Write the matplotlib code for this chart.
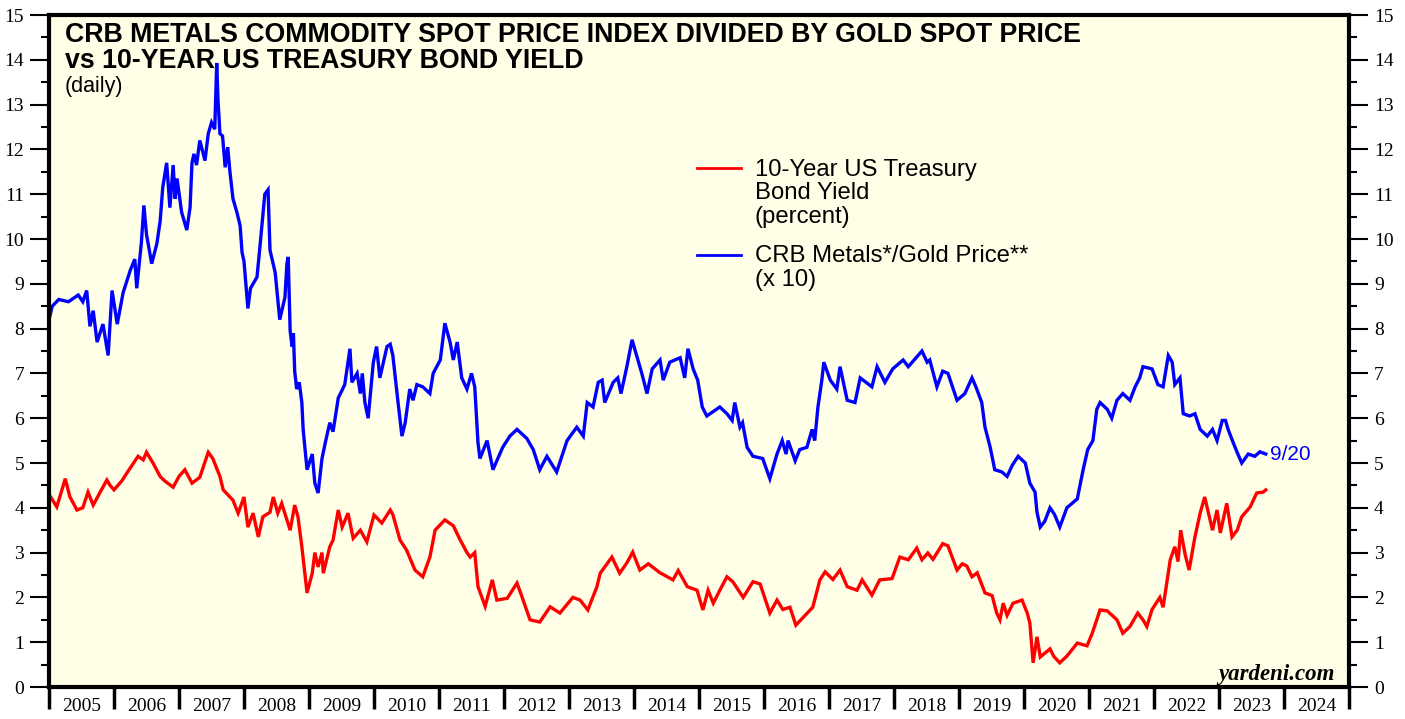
import matplotlib
matplotlib.use("Agg")
import matplotlib.pyplot as plt
from matplotlib.ticker import MultipleLocator, FixedLocator

# CRB metals / gold price (x 10), (decimal year, value)
crb_gold = [
    (2005.00, 8.2), (2005.05, 8.5), (2005.15, 8.65), (2005.30, 8.6), (2005.45, 8.75), (2005.52, 8.6),
    (2005.58, 8.85), (2005.63, 8.05), (2005.68, 8.4), (2005.74, 7.7), (2005.83, 8.1), (2005.91, 7.4),
    (2005.97, 8.85), (2006.05, 8.1), (2006.14, 8.8), (2006.25, 9.3), (2006.32, 9.55), (2006.35, 8.9),
    (2006.42, 9.9), (2006.46, 10.75), (2006.50, 10.1), (2006.58, 9.45), (2006.66, 9.9), (2006.71, 10.4),
    (2006.75, 11.15), (2006.81, 11.7), (2006.86, 10.7), (2006.91, 11.65), (2006.94, 10.9), (2006.97, 11.35),
    (2007.04, 10.6), (2007.12, 10.2), (2007.17, 10.7), (2007.20, 11.7), (2007.23, 11.9), (2007.27, 11.65),
    (2007.32, 12.2), (2007.40, 11.75), (2007.45, 12.35), (2007.50, 12.6), (2007.55, 12.45), (2007.58, 13.93),
    (2007.60, 13.1), (2007.63, 12.35), (2007.67, 12.3), (2007.71, 11.6), (2007.75, 12.05), (2007.78, 11.55),
    (2007.83, 10.9), (2007.89, 10.6), (2007.94, 10.3), (2007.97, 9.7), (2008.00, 9.5), (2008.06, 8.45),
    (2008.10, 8.9), (2008.20, 9.15), (2008.25, 9.9), (2008.32, 11.0), (2008.37, 11.1), (2008.40, 9.75),
    (2008.48, 9.25), (2008.55, 8.2), (2008.63, 8.7), (2008.66, 9.45), (2008.68, 9.6), (2008.71, 7.95),
    (2008.74, 7.6), (2008.76, 7.9), (2008.78, 7.05), (2008.81, 6.65), (2008.85, 6.8), (2008.89, 6.35),
    (2008.91, 5.75), (2008.97, 4.85), (2009.05, 5.2), (2009.09, 4.55), (2009.14, 4.33), (2009.20, 5.1),
    (2009.25, 5.45), (2009.32, 5.9), (2009.37, 5.7), (2009.45, 6.45), (2009.55, 6.75), (2009.63, 7.55),
    (2009.66, 6.8), (2009.74, 7.0), (2009.79, 6.55), (2009.82, 7.0), (2009.86, 6.35), (2009.91, 6.0),
    (2009.99, 7.25), (2010.04, 7.6), (2010.09, 6.9), (2010.20, 7.6), (2010.25, 7.65), (2010.29, 7.4),
    (2010.37, 6.35), (2010.43, 5.6), (2010.48, 5.9), (2010.55, 6.65), (2010.60, 6.4), (2010.66, 6.75),
    (2010.75, 6.7), (2010.86, 6.55), (2010.91, 7.0), (2011.02, 7.3), (2011.09, 8.12), (2011.17, 7.7),
    (2011.22, 7.3), (2011.28, 7.7), (2011.35, 6.9), (2011.43, 6.65), (2011.50, 7.0), (2011.55, 6.7),
    (2011.60, 5.45), (2011.63, 5.1), (2011.74, 5.5), (2011.83, 4.85), (2011.98, 5.35), (2012.09, 5.6),
    (2012.20, 5.75), (2012.35, 5.55), (2012.45, 5.3), (2012.55, 4.85), (2012.66, 5.15), (2012.81, 4.8),
    (2012.97, 5.5), (2013.12, 5.8), (2013.22, 5.6), (2013.28, 6.35), (2013.37, 6.25), (2013.45, 6.8),
    (2013.51, 6.85), (2013.55, 6.35), (2013.68, 6.8), (2013.75, 6.9), (2013.80, 6.55), (2013.89, 7.15),
    (2013.97, 7.75), (2014.05, 7.35), (2014.12, 7.0), (2014.20, 6.55), (2014.28, 7.1), (2014.40, 7.3),
    (2014.45, 6.85), (2014.55, 7.25), (2014.71, 7.35), (2014.78, 6.9), (2014.83, 7.55), (2014.91, 7.1),
    (2014.98, 6.85), (2015.05, 6.25), (2015.12, 6.05), (2015.32, 6.25), (2015.43, 6.1), (2015.51, 5.95),
    (2015.55, 6.35), (2015.63, 5.8), (2015.67, 5.9), (2015.74, 5.35), (2015.83, 5.15), (2015.98, 5.1),
    (2016.09, 4.65), (2016.20, 5.2), (2016.28, 5.5), (2016.34, 5.2), (2016.37, 5.5), (2016.48, 5.05),
    (2016.55, 5.3), (2016.66, 5.35), (2016.74, 5.75), (2016.78, 5.5), (2016.83, 6.25), (2016.89, 6.85),
    (2016.92, 7.25), (2017.02, 6.85), (2017.12, 6.65), (2017.17, 7.15), (2017.28, 6.4), (2017.40, 6.35),
    (2017.48, 6.9), (2017.66, 6.7), (2017.74, 7.15), (2017.86, 6.8), (2017.98, 7.1), (2018.14, 7.3),
    (2018.22, 7.15), (2018.43, 7.5), (2018.51, 7.25), (2018.55, 7.3), (2018.66, 6.7), (2018.75, 7.05),
    (2018.83, 7.0), (2018.97, 6.4), (2019.09, 6.55), (2019.20, 6.9), (2019.26, 6.7), (2019.35, 6.35),
    (2019.40, 5.8), (2019.48, 5.35), (2019.55, 4.85), (2019.66, 4.8), (2019.74, 4.7), (2019.82, 4.95),
    (2019.91, 5.15), (2020.02, 5.0), (2020.09, 4.55), (2020.17, 4.35), (2020.20, 3.9), (2020.25, 3.57),
    (2020.32, 3.7), (2020.40, 4.0), (2020.47, 3.85), (2020.55, 3.57), (2020.66, 4.0), (2020.82, 4.2),
    (2020.91, 4.85), (2020.98, 5.3), (2021.06, 5.5), (2021.12, 6.2), (2021.17, 6.35), (2021.28, 6.2),
    (2021.35, 6.0), (2021.43, 6.4), (2021.52, 6.55), (2021.63, 6.4), (2021.71, 6.7), (2021.78, 6.9),
    (2021.83, 7.15), (2021.97, 7.1), (2022.06, 6.75), (2022.14, 6.7), (2022.22, 7.4), (2022.28, 7.25),
    (2022.32, 6.75), (2022.40, 6.9), (2022.45, 6.1), (2022.55, 6.05), (2022.63, 6.1), (2022.71, 5.75),
    (2022.82, 5.6), (2022.90, 5.75), (2022.97, 5.5), (2023.05, 5.95), (2023.10, 5.95), (2023.14, 5.75),
    (2023.22, 5.45), (2023.29, 5.2), (2023.35, 5.0), (2023.45, 5.2), (2023.55, 5.15), (2023.63, 5.25),
    (2023.72, 5.2),
]

# 10-year US Treasury bond yield, percent
us10y = [
    (2005.00, 4.3), (2005.12, 4.02), (2005.22, 4.5), (2005.25, 4.65), (2005.32, 4.25), (2005.43, 3.95),
    (2005.52, 4.0), (2005.60, 4.35), (2005.68, 4.06), (2005.78, 4.33), (2005.89, 4.62), (2005.94, 4.5),
    (2006.00, 4.4), (2006.12, 4.6), (2006.20, 4.78), (2006.30, 5.0), (2006.37, 5.15), (2006.45, 5.07),
    (2006.50, 5.24), (2006.60, 5.0), (2006.71, 4.7), (2006.78, 4.6), (2006.91, 4.46), (2007.00, 4.7),
    (2007.09, 4.85), (2007.20, 4.55), (2007.32, 4.68), (2007.45, 5.24), (2007.52, 5.1), (2007.63, 4.7),
    (2007.68, 4.4), (2007.83, 4.17), (2007.91, 3.88), (2008.00, 4.24), (2008.06, 3.57), (2008.14, 3.88),
    (2008.22, 3.35), (2008.29, 3.8), (2008.40, 3.9), (2008.45, 4.24), (2008.52, 3.88), (2008.58, 4.1),
    (2008.71, 3.5), (2008.78, 4.06), (2008.83, 3.8), (2008.89, 3.13), (2008.97, 2.1), (2009.05, 2.54),
    (2009.09, 3.0), (2009.14, 2.68), (2009.20, 3.0), (2009.22, 2.54), (2009.32, 3.13), (2009.37, 3.28),
    (2009.45, 3.95), (2009.51, 3.57), (2009.60, 3.88), (2009.68, 3.32), (2009.79, 3.5), (2009.89, 3.24),
    (2010.00, 3.84), (2010.12, 3.66), (2010.25, 3.95), (2010.29, 3.85), (2010.40, 3.28), (2010.50, 3.06),
    (2010.63, 2.61), (2010.75, 2.46), (2010.86, 2.9), (2010.94, 3.5), (2011.09, 3.73), (2011.22, 3.6),
    (2011.32, 3.3), (2011.43, 3.0), (2011.48, 2.9), (2011.55, 3.0), (2011.60, 2.24), (2011.71, 1.8),
    (2011.82, 2.39), (2011.89, 1.94), (2012.05, 1.98), (2012.20, 2.32), (2012.28, 2.0), (2012.40, 1.5),
    (2012.55, 1.45), (2012.71, 1.79), (2012.86, 1.65), (2013.06, 2.0), (2013.17, 1.94), (2013.29, 1.72),
    (2013.43, 2.24), (2013.48, 2.54), (2013.55, 2.68), (2013.66, 2.9), (2013.78, 2.54), (2013.89, 2.77),
    (2013.98, 3.01), (2014.09, 2.61), (2014.22, 2.75), (2014.40, 2.55), (2014.60, 2.39), (2014.68, 2.6),
    (2014.82, 2.24), (2014.97, 2.16), (2015.06, 1.72), (2015.14, 2.16), (2015.22, 1.87), (2015.32, 2.16),
    (2015.43, 2.46), (2015.52, 2.35), (2015.68, 2.0), (2015.83, 2.35), (2015.94, 2.3), (2016.09, 1.65),
    (2016.20, 1.94), (2016.29, 1.73), (2016.40, 1.78), (2016.49, 1.38), (2016.60, 1.55), (2016.75, 1.78),
    (2016.86, 2.39), (2016.94, 2.57), (2017.06, 2.4), (2017.17, 2.61), (2017.28, 2.24), (2017.43, 2.16),
    (2017.51, 2.39), (2017.66, 2.05), (2017.78, 2.39), (2017.97, 2.42), (2018.09, 2.9), (2018.22, 2.84),
    (2018.35, 3.1), (2018.43, 2.84), (2018.52, 2.99), (2018.60, 2.85), (2018.75, 3.2), (2018.83, 3.15),
    (2018.97, 2.61), (2019.05, 2.75), (2019.12, 2.7), (2019.20, 2.46), (2019.28, 2.55), (2019.40, 2.1),
    (2019.51, 2.04), (2019.58, 1.65), (2019.63, 1.5), (2019.68, 1.87), (2019.74, 1.6), (2019.83, 1.87),
    (2019.97, 1.94), (2020.05, 1.65), (2020.09, 1.43), (2020.14, 0.54), (2020.20, 1.12), (2020.25, 0.67),
    (2020.40, 0.85), (2020.46, 0.68), (2020.55, 0.54), (2020.66, 0.69), (2020.82, 0.98), (2020.97, 0.92),
    (2021.05, 1.2), (2021.17, 1.72), (2021.28, 1.7), (2021.43, 1.5), (2021.52, 1.2), (2021.63, 1.35),
    (2021.75, 1.65), (2021.83, 1.5), (2021.89, 1.35), (2021.97, 1.73), (2022.09, 2.0), (2022.14, 1.78),
    (2022.25, 2.84), (2022.32, 3.13), (2022.37, 2.8), (2022.41, 3.5), (2022.48, 2.95), (2022.54, 2.61),
    (2022.63, 3.35), (2022.71, 3.88), (2022.78, 4.24), (2022.90, 3.5), (2022.97, 3.95), (2023.02, 3.44),
    (2023.12, 4.1), (2023.20, 3.35), (2023.28, 3.5), (2023.35, 3.8), (2023.48, 4.02), (2023.58, 4.33),
    (2023.68, 4.35), (2023.72, 4.4),
]

years = list(range(2005, 2025))
last_label = "9/20"

BG = "#fffee6"
SERIF = "Liberation Serif"
SANS = "Liberation Sans"

fig = plt.figure(figsize=(14.05, 7.19), dpi=100)
ax = fig.add_axes([49 / 1405, 32 / 719, 1300 / 1405, 672 / 719])
ax.set_facecolor(BG)

crb_x, crb_y = zip(*crb_gold)
bond_x, bond_y = zip(*us10y)
ax.plot(bond_x, bond_y, color="#ff0000", lw=2.4, solid_joinstyle="miter")
ax.plot(crb_x, crb_y, color="#0000ff", lw=2.4, solid_joinstyle="miter")

ax.set_xlim(2005, 2025)
ax.set_ylim(0, 15)

# y axis on both sides, minor ticks at the halves
ax.yaxis.set_major_locator(MultipleLocator(1))
ax.yaxis.set_minor_locator(MultipleLocator(0.5))
ax.tick_params(axis="y", which="both", direction="out", left=True, right=True,
               labelleft=True, labelright=True, width=1.5, labelsize=14, pad=4)
ax.tick_params(axis="y", which="major", length=14)
ax.tick_params(axis="y", which="minor", length=6)
for lbl in ax.get_yticklabels():
    lbl.set_fontfamily(SERIF)

# year ticks at boundaries, labels centred in each year
ax.xaxis.set_major_locator(FixedLocator(years + [2025]))
ax.xaxis.set_minor_locator(FixedLocator([y + 0.5 for y in years]))
ax.set_xticklabels([])
ax.set_xticklabels([str(y) for y in years], minor=True, fontfamily=SERIF, fontsize=14)
ax.tick_params(axis="x", which="major", direction="out", length=16, width=2.5)
ax.tick_params(axis="x", which="minor", length=0, pad=8)

for s in ax.spines.values():
    s.set_linewidth(3)

ax.text(0.0123, 0.99, "CRB METALS COMMODITY SPOT PRICE INDEX DIVIDED BY GOLD SPOT PRICE\n"
        "vs 10-YEAR US TREASURY BOND YIELD", transform=ax.transAxes, ha="left", va="top",
        fontsize=19.25, fontweight="bold", fontfamily=SANS, linespacing=1.02)
ax.text(0.0123, 0.9085, "(daily)", transform=ax.transAxes, ha="left", va="top",
        fontsize=15.5, fontfamily=SANS)

# legend drawn by hand
ax.plot([0.4985, 0.532], [0.772, 0.772], transform=ax.transAxes, color="#ff0000", lw=2)
ax.text(0.543, 0.786, "10-Year US Treasury\nBond Yield\n(percent)", transform=ax.transAxes,
        ha="left", va="top", fontsize=17.2, fontfamily=SANS, linespacing=1.09)
ax.plot([0.4985, 0.532], [0.643, 0.643], transform=ax.transAxes, color="#0000ff", lw=2)
ax.text(0.543, 0.657, "CRB Metals*/Gold Price**\n(x 10)", transform=ax.transAxes,
        ha="left", va="top", fontsize=17.2, fontfamily=SANS, linespacing=1.09)

ax.text(crb_x[-1] + 0.07, crb_y[-1], last_label, color="#0000ff", fontsize=15,
        fontfamily=SANS, ha="left", va="center")

ax.text(0.989, 0.0104, "yardeni.com", transform=ax.transAxes, ha="right", va="baseline",
        fontsize=16.5, fontweight="bold", fontstyle="italic", fontfamily=SERIF)

fig.savefig("out.png", dpi=100, facecolor="white")
